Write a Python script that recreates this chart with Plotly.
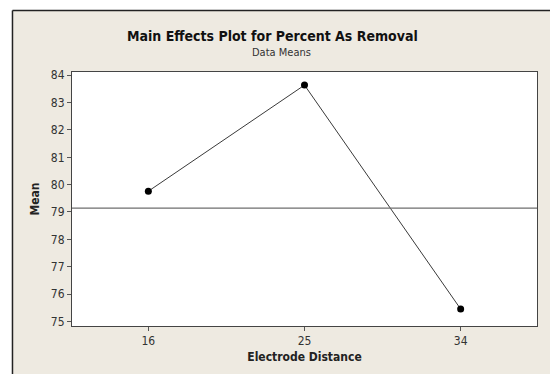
import plotly.graph_objects as go

# Main effect means for electrode distance
distance = [16, 25, 34]
mean_removal = [79.76, 83.64, 75.45]
grand_mean = 79.14
y_ticks = [75, 76, 77, 78, 79, 80, 81, 82, 83, 84]

BEIGE = "#EEEAE1"
FONT = "Tahoma, 'DejaVu Sans Condensed', 'DejaVu Sans', sans-serif"

fig = go.Figure()

fig.add_trace(go.Scatter(
    x=distance, y=mean_removal,
    mode="lines+markers",
    line=dict(color="#3a3a3a", width=1),
    marker=dict(color="black", size=7),
    hoverinfo="x+y", showlegend=False,
))

# Grand mean reference line
fig.add_hline(y=grand_mean, line=dict(color="#6e6e6e", width=1.2))

# Window frame: beige panel with dark top/left edges, white plotting area
fig.add_shape(type="rect", xref="paper", yref="paper",
              x0=-0.128, x1=1.2, y0=-0.3, y1=1.242,
              fillcolor=BEIGE, line=dict(width=0), layer="below")
fig.add_shape(type="rect", xref="paper", yref="paper",
              x0=0, x1=1, y0=0, y1=1,
              fillcolor="white", line=dict(width=0), layer="below")
fig.add_shape(type="line", xref="paper", yref="paper",
              x0=-0.128, x1=1.2, y0=1.242, y1=1.242,
              line=dict(color="#222222", width=1.5), layer="below")
fig.add_shape(type="line", xref="paper", yref="paper",
              x0=-0.128, x1=-0.128, y0=-0.3, y1=1.242,
              line=dict(color="#222222", width=1.5), layer="below")

fig.add_annotation(text="<b>Main Effects Plot for Percent As Removal</b>",
                   xref="paper", yref="paper", x=0.431, y=1.14,
                   xanchor="center", yanchor="middle",
                   showarrow=False, font=dict(size=14, color="#111111", family=FONT))
fig.add_annotation(text="Data Means",
                   xref="paper", yref="paper", x=0.450, y=1.075,
                   xanchor="center", yanchor="middle",
                   showarrow=False, font=dict(size=11, color="#333333", family=FONT))

fig.update_xaxes(
    range=[11.6, 38.4], tickvals=distance, ticktext=[str(d) for d in distance],
    ticks="outside", ticklen=4, tickcolor="#555555",
    showgrid=False, zeroline=False,
    showline=True, linecolor="#444444", linewidth=1, mirror=True,
    tickfont=dict(size=12, color="#333333", family=FONT),
    title=dict(text="<b>Electrode Distance</b>", standoff=5,
               font=dict(size=12, color="#222222", family=FONT)),
)
fig.update_yaxes(
    range=[74.83, 84.12], tickvals=y_ticks,
    ticks="outside", ticklen=4, tickcolor="#555555",
    showgrid=False, zeroline=False,
    showline=True, linecolor="#444444", linewidth=1, mirror=True,
    tickfont=dict(size=12, color="#333333", family=FONT),
    title=dict(text="<b>Mean</b>", standoff=8,
               font=dict(size=12, color="#222222", family=FONT)),
)

fig.update_layout(
    width=550, height=374,
    margin=dict(l=72, r=13, t=72, b=46),
    paper_bgcolor="white", plot_bgcolor="white",
    font=dict(family=FONT),
)

fig.write_html("out.html")
